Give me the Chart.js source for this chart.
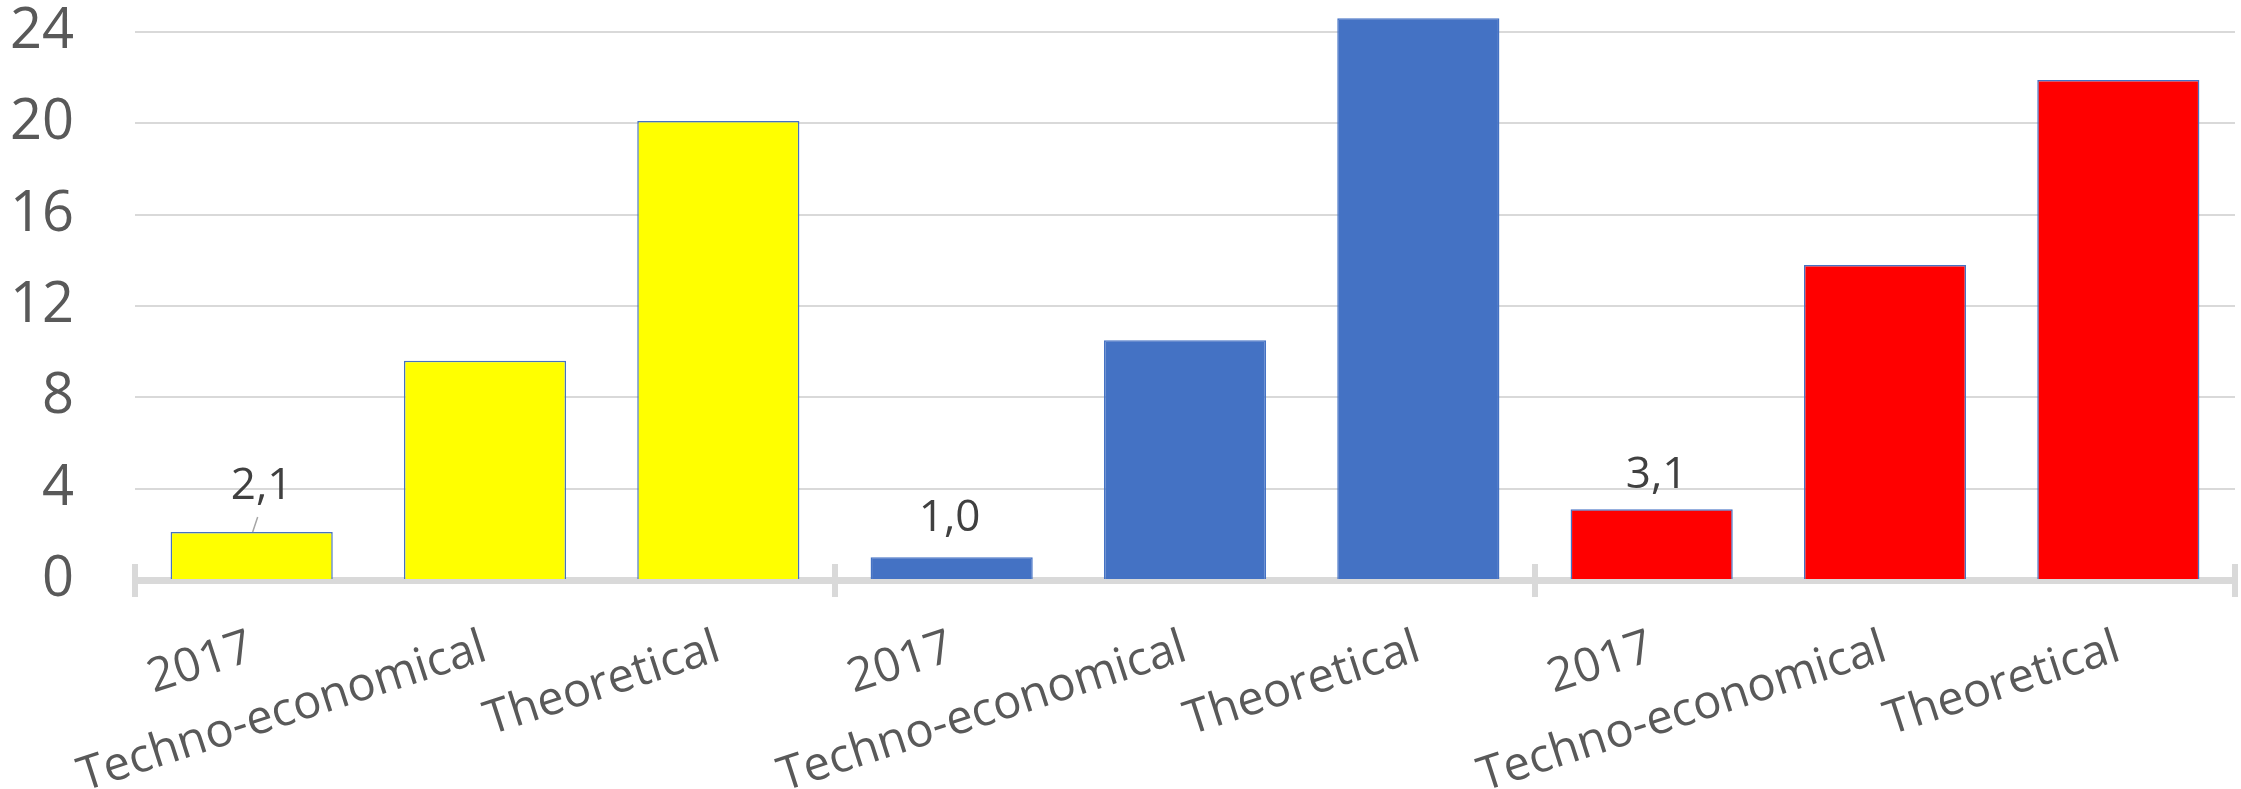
<!DOCTYPE html>
<html>
<head>
<meta charset="utf-8">
<script src="https://cdn.jsdelivr.net/npm/chart.js@4"></script>
<style>
  html, body { margin: 0; padding: 0; background: #fff; }
  #wrap { width: 2241px; height: 789px; position: relative; }
</style>
</head>
<body>
<div id="wrap"><canvas id="chart"></canvas></div>
<script>
// categories repeat once per group
const categories = ["2017", "Techno-economical", "Theoretical"];
const groupColors = ["#FFFF00", "#4472C4", "#FF0000"];

// values
const yellowValues = [2.1, 9.6, 20.1];
const blueValues = [1.0, 10.5, 24.6];
const redValues = [3.1, 13.8, 21.9];

const yTicks = [0, 4, 8, 12, 16, 20, 24];

// where each 2017 label was dragged to, relative to the bar top (px)
const labelShift = [[10, 46], [-2, 39], [5, 34]];

const groups = [yellowValues, blueValues, redValues];
const labels = [];
const values = [];
const colors = [];
groups.forEach((g, gi) => {
  g.forEach((v, i) => {
    labels.push(categories[i]);
    values.push(v);
    colors.push(groupColors[gi]);
  });
});

const FONT = "'Open Sans', 'Noto Sans', sans-serif";

// small separator ticks between the groups, crossing the axis line
const groupTicks = {
  id: "groupTicks",
  afterDraw(chart) {
    const xs = chart.scales.x, ys = chart.scales.y;
    const ctx = chart.ctx;
    const y0 = ys.getPixelForValue(0);
    const half = (xs.getPixelForValue(1) - xs.getPixelForValue(0)) / 2;
    ctx.save();
    ctx.strokeStyle = "#D9D9D9";
    ctx.lineWidth = 6;
    for (let g = 0; g <= groups.length; g++) {
      const px = xs.getPixelForValue(g * categories.length) - half;
      ctx.beginPath();
      ctx.moveTo(px, y0 - 16);
      ctx.lineTo(px, y0 + 17);
      ctx.stroke();
    }
    ctx.restore();
  }
};

// value labels only on the 2017 bars
const firstLabels = {
  id: "firstLabels",
  afterDatasetsDraw(chart) {
    const ctx = chart.ctx;
    const meta = chart.getDatasetMeta(0);
    ctx.save();
    ctx.font = "44px " + FONT;
    ctx.fillStyle = "#404040";
    ctx.textAlign = "center";
    ctx.textBaseline = "middle";
    groups.forEach((g, gi) => {
      const idx = gi * categories.length;
      const bar = meta.data[idx];
      const [dx, dy] = labelShift[gi];
      const txt = values[idx].toFixed(1).replace(".", ",");
      ctx.fillText(txt, bar.x + dx, bar.y - dy);
      if (dy > 42) {
        ctx.strokeStyle = "#A6A6A6";
        ctx.lineWidth = 1.5;
        ctx.beginPath();
        ctx.moveTo(bar.x + 1, bar.y);
        ctx.lineTo(bar.x + 6, bar.y - 15);
        ctx.stroke();
      }
    });
    ctx.restore();
  }
};

new Chart(document.getElementById("chart"), {
  type: "bar",
  data: {
    labels: labels,
    datasets: [{
      data: values,
      backgroundColor: colors,
      borderColor: "#4472C4",
      borderWidth: 1.5,
      categoryPercentage: 1,
      barPercentage: 0.695,
      clip: false
    }]
  },
  options: {
    responsive: true,
    maintainAspectRatio: false,
    animation: false,
    layout: { padding: { left: 0, right: 6, top: 0, bottom: 0 } },
    plugins: {
      legend: { display: false },
      tooltip: { enabled: false }
    },
    scales: {
      x: {
        z: 1,
        grid: { display: false, drawTicks: false },
        border: { display: true, color: "#D9D9D9", width: 7 },
        ticks: {
          autoSkip: false,
          minRotation: 18,
          maxRotation: 18,
          padding: 40,
          color: "#595959",
          font: { family: FONT, size: 47 }
        },
        afterFit(scale) { scale.height = 209; }
      },
      y: {
        min: 0,
        max: 24,
        afterBuildTicks(scale) { scale.ticks = yTicks.map(v => ({ value: v })); },
        grid: { color: "#D9D9D9", lineWidth: 2, drawTicks: false },
        border: { display: false },
        ticks: {
          padding: 61,
          color: "#595959",
          font: { family: FONT, size: 56 }
        },
        afterFit(scale) {
          scale.width = 135;
          // keep the top of the plot just half a label below the canvas edge
          scale.paddingTop = 32;
          scale.paddingBottom = 0;
        }
      }
    }
  },
  plugins: [groupTicks, firstLabels]
});
</script>
</body>
</html>
